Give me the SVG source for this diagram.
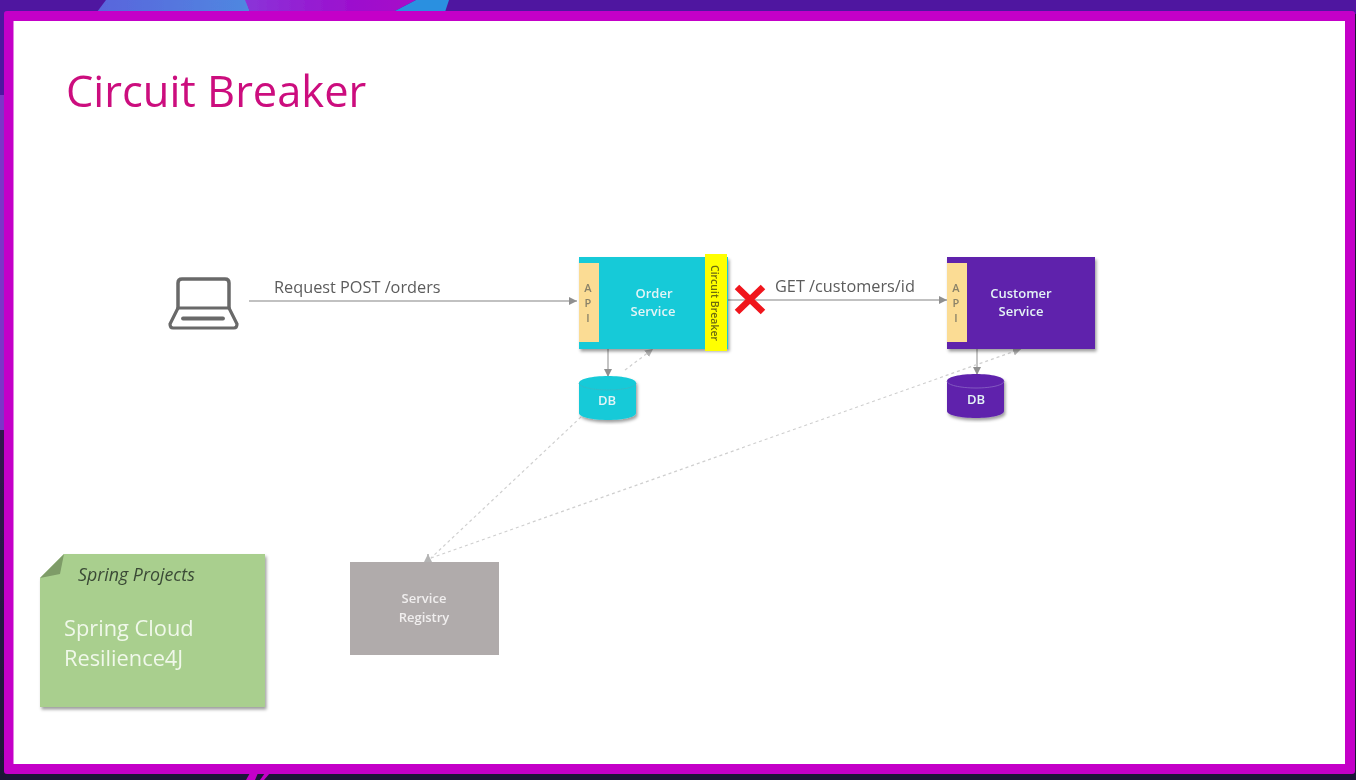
<svg xmlns="http://www.w3.org/2000/svg" width="1356" height="780" viewBox="0 0 1356 780">
<style>
text{font-family:"Open Sans","Noto Sans","Liberation Sans",sans-serif}
.w{fill:#e4f4f6;font-size:13px;font-weight:600;text-anchor:middle}
.g{fill:#f0eeee;font-size:13px;font-weight:600;text-anchor:middle}
.conn{stroke:#adadad;stroke-width:1.4;fill:none}
.dash{stroke:#cfcfcf;stroke-width:1.2;fill:none;stroke-dasharray:3 3}
.lab{fill:#5c5c5c;font-size:16.3px}
.api{fill:#fbdc94}
.apit{fill:#8a8268;font-size:11px;font-weight:600;text-anchor:middle}
</style>
<defs>
<marker id="a" markerWidth="10" markerHeight="9" refX="8" refY="4.500" orient="auto" markerUnits="userSpaceOnUse"><path d="M0 0.500L8 4.500L0 8.500z" fill="#8f8f8f"/></marker>
<marker id="b" markerWidth="10" markerHeight="9" refX="8" refY="4.500" orient="auto" markerUnits="userSpaceOnUse"><path d="M0 0.500L8 4.500L0 8.500z" fill="#b4b4b4"/></marker>
<filter id="s" x="-10%" y="-10%" width="120%" height="120%"><feDropShadow dx="1.500" dy="2.500" stdDeviation="1.600" flood-color="#000" flood-opacity=".38"/></filter>
<filter id="soft" x="0" y="0" width="100%" height="100%"><feGaussianBlur stdDeviation=".45"/></filter>
<linearGradient id="g" x1="0" x2="1"><stop offset="0" stop-color="#8a34d8"/><stop offset=".75" stop-color="#a008cc"/><stop offset="1" stop-color="#a808c8"/></linearGradient>
<linearGradient id="bl" x1="0" x2="1"><stop offset="0" stop-color="#5a64dc"/><stop offset="1" stop-color="#4f88e0"/></linearGradient>
<linearGradient id="dk" x1="0" y1="0" x2="0" y2="1"><stop offset="0" stop-color="#33174f"/><stop offset="1" stop-color="#1e1636"/></linearGradient>
</defs>
<g filter="url(#soft)">
<g id="background">
<rect width="1356" height="780" fill="#1f1638"/>
<rect width="1356" height="14" fill="#4f17a0"/>
<rect width="6" height="96" fill="#4f17a0"/>
<rect y="95" width="6" height="335" fill="#7d35c8"/>
<rect y="430" width="6" height="350" fill="url(#dk)"/>
<path d="M97 12L106 0H246L250 12z" fill="url(#bl)"/>
<path d="M245 0H416L393 12H250z" fill="url(#g)"/>
<path d="M393 12L416 0H449L445 12z" fill="#2a90e0"/>
<path d="M246 780L250 773H258L255 780zM260 780L265 773H270L264 780z" fill="#c400c8"/>
<rect x="4" y="11" width="1351" height="763" rx="3" fill="#c400c8"/>
<rect x="13.500" y="21" width="1331.500" height="743" fill="#fff"/>
</g>
<text id="title" x="66" y="107" font-size="43.400" fill="#cc0f7e">Circuit Breaker</text>
<g id="connectors">
<path class="conn" d="M249 301H577" marker-end="url(#a)"/>
<path class="conn" d="M727 300H947" marker-end="url(#a)"/>
<path class="conn" d="M608 349V377" marker-end="url(#a)"/>
<path class="conn" d="M977 349V375" marker-end="url(#a)"/>
<path class="dash" d="M581 417L431 558"/>
<path class="dash" d="M625 370L653 349" marker-end="url(#b)"/>
<path class="dash" d="M431 558L1021 349" marker-end="url(#b)"/>
<path class="conn" d="M428 562V554" marker-end="url(#b)"/>
</g>
<g id="laptop" fill="none" stroke="#696969" stroke-linecap="round" stroke-linejoin="round">
<path stroke-width="3.500" d="M178 308V283Q178 279 182 279H225Q229 279 229 283V308"/>
<path stroke-width="3.200" d="M178 308H229L237 324Q237 328 234 328H173Q170 328 170 324z"/>
<path stroke-width="3.800" d="M183 318.500H223"/>
</g>
<text class="lab" x="274" y="293">Request POST /orders</text>
<g id="order-service">
<rect x="579" y="257" width="149" height="92" fill="#14cad8" filter="url(#s)"/>
<rect class="api" x="579" y="263" width="20" height="79"/>
<text class="apit"><tspan x="588" y="292">A</tspan><tspan x="588" y="307">P</tspan><tspan x="588" y="322">I</tspan></text>
<text class="w" x="654" y="298">Order</text>
<text class="w" x="653" y="316">Service</text>
</g>
<g id="circuit-breaker">
<rect x="705" y="254" width="22" height="97" fill="#ffff00"/>
<text x="711" y="303" font-size="10.500" font-weight="600" fill="#6e6c10" text-anchor="middle" transform="rotate(90 711 303)">Circuit Breaker</text>
</g>
<g id="failure-cross" stroke="#f0141e" stroke-width="6.500">
<path d="M737 287L763 312M763 287L737 312"/>
</g>
<text class="lab" x="775" y="292">GET /customers/id</text>
<g id="customer-service">
<rect x="947" y="257" width="148" height="92" fill="#5e22ac" filter="url(#s)"/>
<rect class="api" x="947" y="263" width="20" height="79"/>
<text class="apit"><tspan x="956" y="292">A</tspan><tspan x="956" y="307">P</tspan><tspan x="956" y="322">I</tspan></text>
<text class="w" x="1021" y="298">Customer</text>
<text class="w" x="1021" y="316">Service</text>
</g>
<g id="order-db">
<path d="M579 383C579 379 592 376 608 376C624 376 636 379 636 383V413C636 417 624 420 608 420C592 420 579 417 579 413z" fill="#14cad8" filter="url(#s)"/>
<path d="M579 383C579 387 592 390 608 390C624 390 636 387 636 383" fill="none" stroke="#3ab8c4" stroke-width=".8"/>
<text class="w" x="607" y="405">DB</text>
</g>
<g id="customer-db">
<path d="M947 381C947 377 960 374 976 374C992 374 1004 377 1004 381V411C1004 415 992 418 976 418C960 418 947 415 947 411z" fill="#5e22ac" filter="url(#s)"/>
<path d="M947 381C947 385 960 388 976 388C992 388 1004 385 1004 381" fill="none" stroke="#8a66c4" stroke-width=".8"/>
<text class="w" x="976" y="404">DB</text>
</g>
<g id="service-registry">
<rect x="350" y="562" width="149" height="93" fill="#b0abab"/>
<text class="g" x="424" y="603">Service</text>
<text class="g" x="424" y="622">Registry</text>
</g>
<g id="spring-projects">
<path d="M64 554H265V707H40V578z" fill="#a9cf8e" filter="url(#s)"/>
<path d="M64 554L40 578L60 574z" fill="#7e9c68"/>
<text x="78" y="581" font-size="17.800" font-style="italic" fill="#3a4a36">Spring Projects</text>
<text x="64" y="636" font-size="21.800" fill="#f0f8ea">Spring Cloud</text>
<text x="64" y="666" font-size="21.800" fill="#f0f8ea">Resilience4J</text>
</g>
</g>
</svg>
